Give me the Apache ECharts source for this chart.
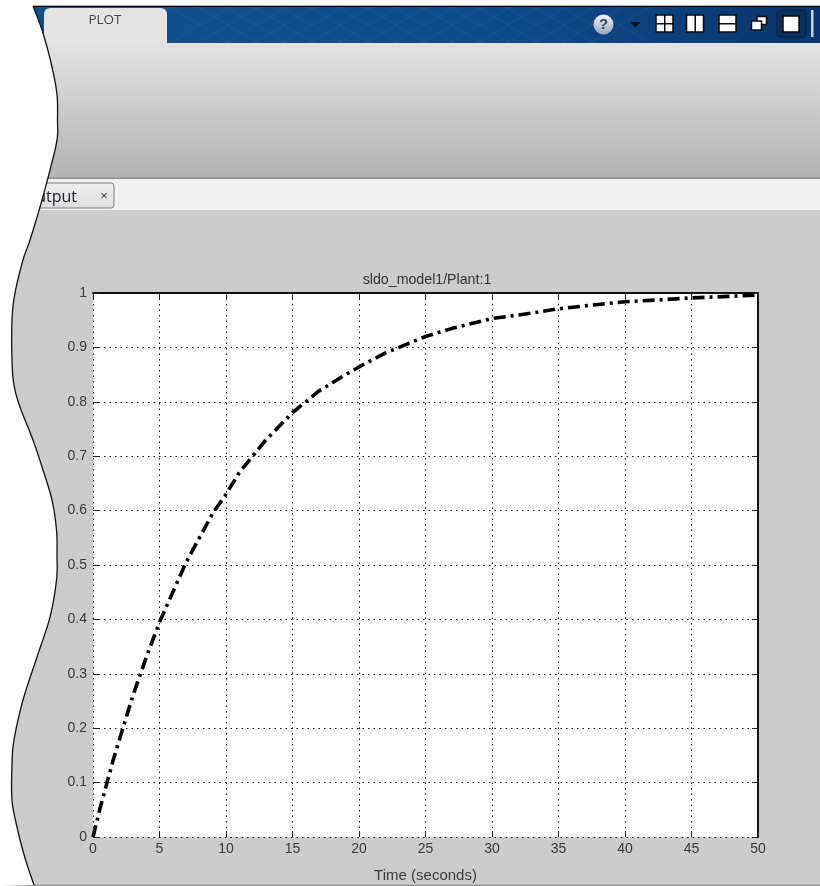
<!DOCTYPE html>
<html>
<head>
<meta charset="utf-8">
<style>html,body{margin:0;padding:0;background:#fff}#c{width:820px;height:886px}</style>
<script src="https://cdn.jsdelivr.net/npm/echarts@6/dist/echarts.min.js"></script>
</head>
<body>
<div id="c"></div>
<script>
const times  = [0,0.5,1,1.5,2,2.5,3,4,5,6,7,8,9,10,11,12,13,14,15,16,17,18,19,20,22,24,25,27,30,33,35,38,40,43,45,48,50];
const output = [0,0.05,0.095,0.14,0.18,0.22,0.26,0.33,0.395,0.45,0.505,0.55,0.595,0.63,0.67,0.70,0.73,0.755,0.78,0.80,0.82,0.835,0.85,0.864,0.89,0.91,0.92,0.935,0.953,0.963,0.971,0.979,0.984,0.988,0.991,0.994,0.996];
const chartTitle = 'sldo_model1/Plant:1';
const xName = 'Time (seconds)';
const tabName = 'PLOT';
const docName = 'Output';

const FONT = '"Liberation Sans", Arial, sans-serif';
const edge = [[33,6],[43,33],[52,67],[57,95],[57.5,120],[57,140],[50,170],[40,207],[30,240],[23,260],[15,293],[12,320],[12,360],[14,385],[20,407],[33,440],[43,470],[52,500],[56.5,530],[57,555],[56.5,580],[50,617],[37,657],[23,700],[14,740],[12,765],[12,800],[17,827],[25,858],[34,885]];
function sampled(p){
  const out=[];
  for(let i=0;i<p.length-1;i++){
    const a=p[Math.max(i-1,0)],b=p[i],c=p[i+1],e=p[Math.min(i+2,p.length-1)];
    for(let k=0;k<8;k++){
      const t=k/8,t2=t*t,t3=t2*t;
      const f=j=>0.5*(2*b[j]+(c[j]-a[j])*t+(2*a[j]-5*b[j]+4*c[j]-e[j])*t2+(3*b[j]-a[j]-3*c[j]+e[j])*t3);
      out.push([f(0),f(1)]);
    }
  }
  out.push(p[p.length-1]);
  return out;
}
const R=(x,y,w,h,fill,z,extra)=>Object.assign({type:'rect',shape:{x,y,width:w,height:h},style:{fill},z:z===undefined?-5:z,silent:true},extra||{});
const vgrad=(a,b)=>new echarts.graphic.LinearGradient(0,0,0,1,[{offset:0,color:a},{offset:1,color:b}]);
const els=[];
els.push(R(0,0,820,886,'#cccccc',-10));
els.push(R(0,6,820,37.5,new echarts.graphic.LinearGradient(0,0,1,0,[{offset:0,color:'#11508f'},{offset:0.6,color:'#0f4c8c'},{offset:1,color:'#08356d'}]),-9));
els.push(R(0,5.5,820,1.5,'#000',-8));
// faint hatch in the banner
for(let i=0;i<16;i++){
  const x=170+i*28;
  els.push({type:'line',shape:{x1:x,y1:43,x2:x+60,y2:7},style:{stroke:'rgba(255,255,255,0.05)',lineWidth:1},z:-8,silent:true});
  els.push({type:'line',shape:{x1:x,y1:7,x2:x+60,y2:43},style:{stroke:'rgba(255,255,255,0.05)',lineWidth:1},z:-8,silent:true});
}
els.push(R(0,43,820,135,vgrad('#e3e3e3','#b2b2b2'),-9));
els.push(R(44,8,123,36,'#e4e4e4',-7,{shape:{x:44,y:8,width:123,height:36,r:[6,6,0,0]}}));
els.push({type:'text',style:{text:tabName,x:105,y:20,align:'center',verticalAlign:'middle',fill:'#444',font:'13.5px "Open Sans", sans-serif'},z:-6,silent:true});
els.push(R(0,177.5,820,1.5,'#8c8c8c',-8));
els.push(R(0,179,820,31,'#f0f0f0',-8));
els.push(R(20,183,94,25,vgrad('#f2f2f2','#dcdcdc'),-7,{shape:{x:20,y:183,width:94,height:25,r:3},style:{fill:vgrad('#efefef','#dedede'),stroke:'#808080',lineWidth:1}}));
els.push({type:'text',style:{text:docName,x:77,y:197,align:'right',verticalAlign:'middle',fill:'#1a1a2a',font:'16px "Open Sans", sans-serif'},z:-6,silent:true});
els.push({type:'text',style:{text:'×',x:104,y:196,align:'center',verticalAlign:'middle',fill:'#444',font:'13px "Liberation Sans", sans-serif'},z:-6,silent:true});
// window layout icons
const box=(x,y,w,h)=>R(x,y,w,h,'#fff',-6,{style:{fill:'#fff',stroke:'#0a0a0a',lineWidth:1.5}});
const bar=(x,y,w,h)=>R(x,y,w,h,'#0a0a0a',-5);
els.push({type:'circle',shape:{cx:603.5,cy:24.5,r:10},style:{fill:new echarts.graphic.LinearGradient(0,0,0,1,[{offset:0,color:'#f4f4f4'},{offset:1,color:'#9aa6b6'}])},z:-6,silent:true});
els.push({type:'text',style:{text:'?',x:603.5,y:24.5,align:'center',verticalAlign:'middle',fill:'#2c4a72',font:'bold 15px "Liberation Sans", sans-serif'},z:-5,silent:true});
els.push({type:'polygon',shape:{points:[[630,22],[641,22],[635.5,27.5]]},style:{fill:'#111'},z:-6,silent:true});
els.push(box(656,15,17,17),bar(664,15,1.5,17),bar(656,23,17,1.5));
els.push(box(686.5,15,17,17),bar(694.5,15,1.5,17));
els.push(box(719,15,17,17),bar(719,23,17,1.5));
els.push(box(757,16.5,9.5,8),box(751.5,21,10,9));
els.push(R(777,10,29,27,'#0a3060',-7,{shape:{x:777,y:10,width:29,height:27,r:3},style:{fill:'#0a3060',stroke:'#06203f',lineWidth:1}}));
els.push(box(783,16,16,16));
els.push(R(811,10,2.5,27,'#c9d2dc',-6));
// bottom rule
els.push(R(0,884.5,820,1.5,'#9a9a9a',-8));
// torn left edge on top of everything
const ed=sampled(edge);
els.push({type:'polygon',shape:{points:ed.concat([[0,886],[0,0],[33,0]])},style:{fill:'#fff'},z:90,silent:true});
els.push(R(0,0,820,5.5,'#fff',90));
els.push({type:'polyline',shape:{points:ed},style:{fill:null,stroke:'#111',lineWidth:1.3},z:91,silent:true});

const labelStyle={color:'#3a3a3a',fontFamily:FONT,fontSize:14};
const chart=echarts.init(document.getElementById('c'),null,{renderer:'canvas'});
chart.setOption({
  animation:false,
  backgroundColor:'transparent',
  title:{text:chartTitle,left:422,top:268,textAlign:'center',textStyle:{color:'#333',fontFamily:FONT,fontSize:14.2,fontWeight:'normal'}},
  grid:{left:93,right:62,top:293,bottom:49,outerBoundsMode:'none',containLabel:false,show:true,backgroundColor:'#fff',borderWidth:0},
  xAxis:[
    {type:'value',min:0,max:50,interval:5,position:'bottom',
     name:xName,nameLocation:'middle',nameGap:31,nameTextStyle:{color:'#3a3a3a',fontFamily:FONT,fontSize:15},
     axisLine:{show:false},
     axisTick:{show:true,inside:true,length:6,lineStyle:{color:'#222',width:1}},
     axisLabel:Object.assign({margin:5,showMinLabel:true,showMaxLabel:true,hideOverlap:false},labelStyle),
     splitLine:{show:true,showMinLine:true,showMaxLine:true,lineStyle:{color:'#111',type:[1.5,4],width:1}}},
    {type:'value',min:0,max:50,interval:5,position:'top',
     axisLine:{show:true,onZero:false,lineStyle:{color:'#111',width:2}},
     axisTick:{show:true,inside:true,length:6,lineStyle:{color:'#222',width:1}},
     axisLabel:{show:false},splitLine:{show:false}}
  ],
  yAxis:[
    {type:'value',min:0,max:1,interval:0.1,position:'left',
     axisLine:{show:false},
     axisTick:{show:true,inside:true,length:6,lineStyle:{color:'#222',width:1}},
     axisLabel:Object.assign({margin:6,showMinLabel:true,showMaxLabel:true,hideOverlap:false},labelStyle),
     splitLine:{show:true,showMinLine:true,showMaxLine:true,lineStyle:{color:'#111',type:[1.5,4],width:1}}},
    {type:'value',min:0,max:1,interval:0.1,position:'right',
     axisLine:{show:true,onZero:false,lineStyle:{color:'#111',width:2}},
     axisTick:{show:true,inside:true,length:6,lineStyle:{color:'#222',width:1}},
     axisLabel:{show:false},splitLine:{show:false}}
  ],
  series:[{type:'line',xAxisIndex:0,yAxisIndex:0,data:times.map((t,i)=>[t,output[i]]),showSymbol:false,smooth:false,clip:false,
    lineStyle:{color:'#000',width:3.6,type:[12,5,3,5],cap:'butt'}}],
  graphic:{elements:els}
});
</script>
</body>
</html>
